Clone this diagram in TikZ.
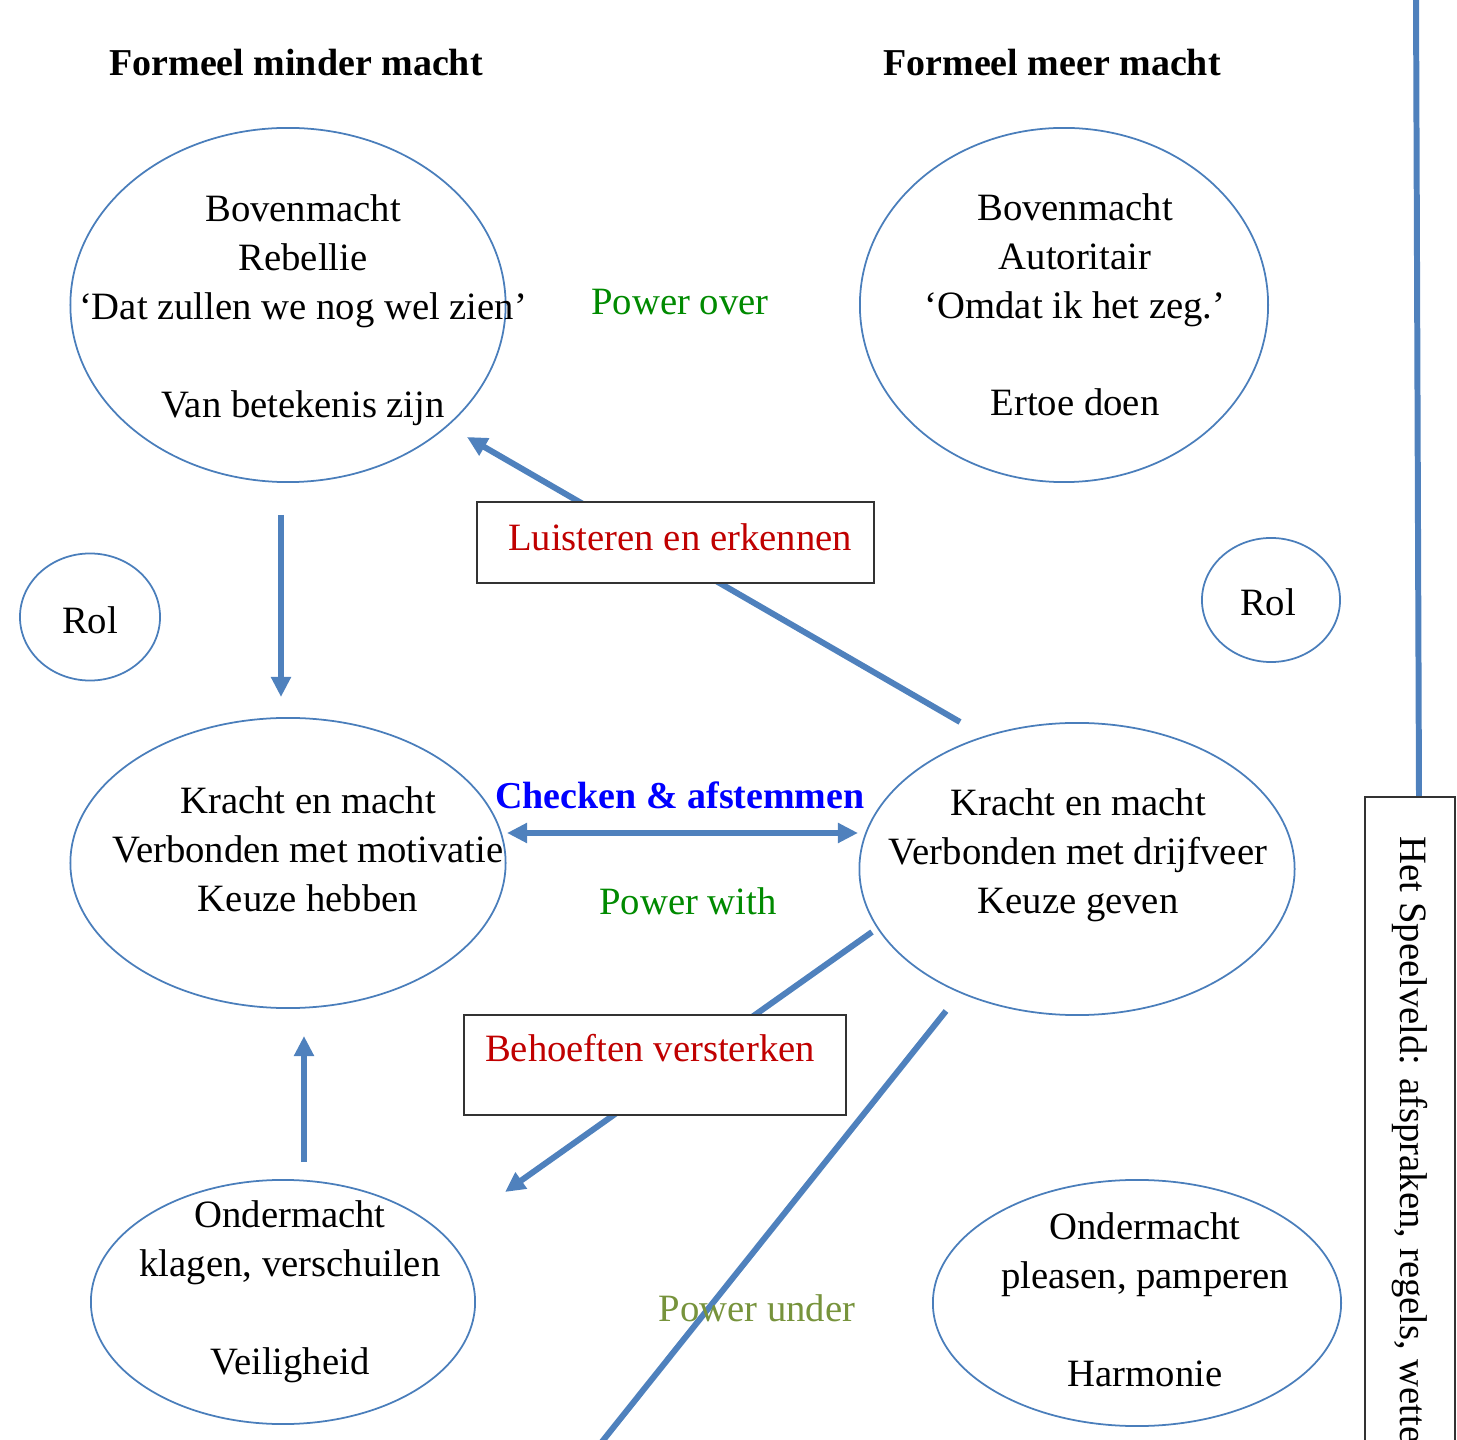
\documentclass[tikz,border=0pt]{standalone}
\usepackage{fontspec}
\setmainfont{Liberation Serif}
\usetikzlibrary{shapes.geometric,arrows.meta}
\definecolor{eblue}{HTML}{4A7EBB}
\definecolor{ablue}{HTML}{4F81BD}
\definecolor{pgreen}{HTML}{008A00}
\definecolor{pred}{HTML}{C00000}
\definecolor{polive}{HTML}{77933C}
\definecolor{cblue}{HTML}{0000FF}
\tikzset{
  ell/.style={draw=eblue, line width=0.5pt, ellipse, inner sep=0pt},
  txt/.style={font=\fontsize{11}{13.9}\selectfont, align=center, inner sep=0pt},
  ttl/.style={font=\fontsize{10.8}{13.9}\selectfont\bfseries, inner sep=0pt},
  conn/.style={draw=ablue, line width=1.7pt},
  arr/.style={conn, -{Triangle[length=0.2cm,width=0.19cm]}},
  darr/.style={conn, {Triangle[length=0.2cm,width=0.19cm]}-{Triangle[length=0.2cm,width=0.19cm]}},
  lbox/.style={draw=black!80, line width=0.45pt, fill=white, inner sep=0pt, rectangle},
}
\begin{document}
\begin{tikzpicture}[x=0.01cm,y=-0.01cm]
\useasboundingbox (0,0) rectangle (1457,1440);
% titles
\node[ttl] (t1) at (296,63) {Formeel minder macht};
\node[ttl] (t2) at (1052,63) {Formeel meer macht};
% ellipses
\node[ell, minimum width=4.35cm, minimum height=3.54cm] (e1) at (288,305) {};
\node[ell, minimum width=4.08cm, minimum height=3.54cm] (e2) at (1064,305) {};
\node[ell, minimum width=1.40cm, minimum height=1.27cm] (r1) at (90,617) {};
\node[ell, minimum width=1.38cm, minimum height=1.24cm] (r2) at (1271,600) {};
\node[ell, minimum width=4.35cm, minimum height=2.90cm] (e5) at (288,863) {};
\node[ell, minimum width=4.35cm, minimum height=2.92cm] (e6) at (1077,869) {};
\node[ell, minimum width=3.84cm, minimum height=2.44cm] (e7) at (283,1302) {};
\node[ell, minimum width=4.08cm, minimum height=2.46cm] (e8) at (1137,1303) {};
% connector end points
\coordinate (a1s) at (960,722);
\coordinate (a1e) at (467,437);
\coordinate (a2s) at (281,515);
\coordinate (a2e) at (281,697);
\coordinate (a3s) at (507,833);
\coordinate (a3e) at (858,833);
\coordinate (a4s) at (872,932);
\coordinate (a4e) at (505,1192);
\coordinate (a5s) at (304,1162);
\coordinate (a5e) at (304,1036);
\coordinate (a6s) at (946,1011);
\coordinate (a6e) at (589,1458);
\coordinate (a7s) at (1416,-5);
\coordinate (a7e) at (1419,797);
% connectors
\draw[arr] (a1s) -- (a1e);
\draw[arr] (a2s) -- (a2e);
\draw[darr] (a3s) -- (a3e);
\draw[arr] (a4s) -- (a4e);
\draw[arr] (a5s) -- (a5e);
\draw[conn] (a6s) -- (a6e);
\draw[conn] (a7s) -- (a7e);
% boxes
\node[lbox, minimum width=3.97cm, minimum height=0.81cm] (b1) at (675.5,542.5) {};
\node[lbox, minimum width=3.82cm, minimum height=1.00cm] (b2) at (655,1065) {};
\node[lbox, minimum width=0.90cm, minimum height=7.00cm] (b3) at (1410,1147) {};
\node[txt, text=pred] (b1t) at (680,537) {Luisteren en erkennen};
\node[txt, text=pred] (b2t) at (650,1048) {Behoeften versterken};
\node[txt, rotate=-90, anchor=west] (b3t) at (1410,836) {Het Speelveld: afspraken, regels, wetten};
% ellipse texts
\node[txt] (e1t) at (303,310) {Bovenmacht\\Rebellie\\‘Dat zullen we nog wel zien’\\ \strut\\Van betekenis zijn};
\node[txt] (e2t) at (1075,305) {Bovenmacht\\Autoritair\\‘Omdat ik het zeg.’\\ \strut\\Ertoe doen};
\node[txt] (r1t) at (90,620) {Rol};
\node[txt] (r2t) at (1268,602) {Rol};
\node[txt] (e5t) at (308,849) {Kracht en macht\\Verbonden met motivatie\\Keuze hebben};
\node[txt] (e6t) at (1078,855) {Kracht en macht\\Verbonden met drijfveer\\Keuze geven};
\node[txt] (e7t) at (290,1292) {Ondermacht\\klagen, verschuilen\\ \strut\\Veiligheid};
\node[txt] (e8t) at (1145,1300) {Ondermacht\\pleasen, pamperen\\ \strut\\Harmonie};
% power labels
\node[txt, text=pgreen] (p1) at (680,302) {Power over};
\node[txt, text=pgreen] (p2) at (688,901) {Power with};
\node[txt, text=polive] (p3) at (757,1308) {Power under};
\node[ttl, text=cblue] (ck) at (680,795) {Checken \& afstemmen};
\end{tikzpicture}
\end{document}
